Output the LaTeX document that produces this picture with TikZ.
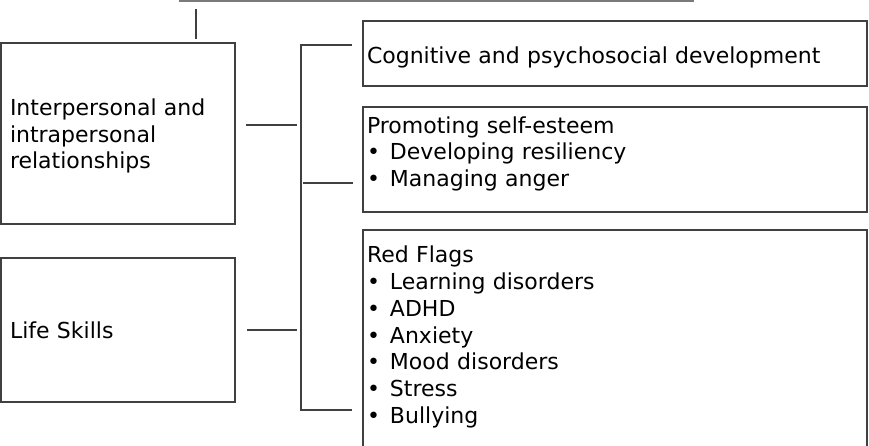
\documentclass[tikz,border=0pt]{standalone}
\usepackage{fontspec}
\setmainfont{DejaVu Sans}
\usepackage{xcolor}
\usetikzlibrary{calc,positioning}
\definecolor{edge}{HTML}{404040}
\definecolor{faint}{HTML}{7A7A7A}
\newcommand{\boxfont}{\fontsize{22}{26.7}\selectfont}
% invisible struts to move the text inside a box
\newcommand{\upstrut}[1]{\rule{0pt}{#1}}
\newcommand{\downstrut}[1]{\rule[-#1]{0pt}{#1}}
% bullet with its gap
\newcommand{\bul}{\makebox[23pt][l]{\textbullet}}

\begin{document}
\begin{tikzpicture}[x=1pt,y=-1pt,
  topic/.style={draw=edge,line width=1.6pt,rectangle,font=\boxfont,
    align=left,anchor=north west,inner ysep=0pt,outer sep=0pt},
  leftbox/.style={topic,inner xsep=9pt,text width=216pt,minimum width=234pt},
  rightbox/.style={topic,inner xsep=4pt,text width=496pt,minimum width=504pt},
  link/.style={draw=edge,line width=1.6pt}]
\useasboundingbox (0,0) rectangle (869,445);
\clip (0,0) rectangle (869,445);

% parent box, only its bottom edge shows
\node[topic,draw=faint,anchor=south west,minimum width=513pt,
  minimum height=60pt,text width=505pt] (top) at (180,1) {};

% left column
\node[leftbox,minimum height=181pt] (inter) at (1,43)
  {\upstrut{21.7pt}Interpersonal and\\intrapersonal\\relationships};
\node[leftbox,minimum height=144pt] (life) at (1,258) {Life Skills};

% right column
\node[rightbox,minimum height=65pt] (cog) at (363,21)
  {\upstrut{24.2pt}Cognitive and psychosocial development};
\node[rightbox,minimum height=105pt] (self) at (363,107)
  {Promoting self-esteem\\\bul Developing resiliency\\
   \bul Managing anger\downstrut{16.2pt}};
\node[rightbox,minimum height=218pt] (flags) at (363,230)
  {Red Flags\\\bul Learning disorders\\\bul ADHD\\
   \bul Anxiety\\\bul Mood disorders\\
   \bul Stress\\\bul Bullying\downstrut{8.6pt}};

% connectors
\coordinate (spineN) at (301,45);
\coordinate (spineS) at (301,410);
\draw[link] ([xshift=16pt,yshift=-8pt]top.south west)
  -- ([xshift=195pt,yshift=4pt]inter.north west);
\draw[link] ([xshift=11pt,yshift=8.5pt]inter.east) -- ++(51,0);
\draw[link] ([xshift=12pt]life.east) -- ++(50,0);
\draw[link] ($(spineN -| cog.west)+(-11,0)$) -- (spineN) -- (spineS)
  -- ($(spineS -| flags.west)+(-11,0)$);
\draw[link] ($(spineN |- self.west)+(2,23.5)$)
  -- ($(self.west)+(-10,23.5)$);
\end{tikzpicture}
\end{document}
